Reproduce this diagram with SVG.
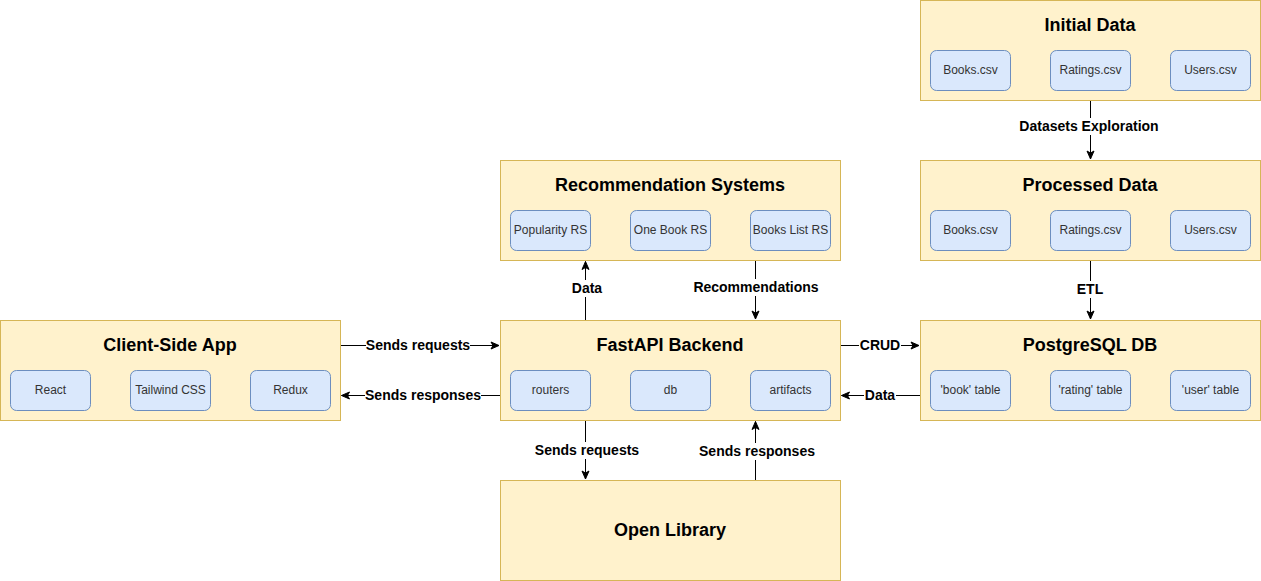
<svg xmlns="http://www.w3.org/2000/svg" width="1261" height="581" viewBox="0 0 1261 581">
<style>
.box{fill:#fff2cc;stroke:#d6b656;stroke-width:1}
.item{fill:#dae8fc;stroke:#6c8ebf;stroke-width:1}
.title{font-family:"Liberation Sans",Arial,sans-serif;font-size:18px;font-weight:bold;fill:#000;text-anchor:middle;dominant-baseline:central}
.itext{font-family:"Liberation Sans",Arial,sans-serif;font-size:12px;fill:#333;text-anchor:middle;dominant-baseline:central}
.edge{stroke:#000;stroke-width:1;fill:none;marker-end:url(#arr)}
.lbl{font-family:"Liberation Sans",Arial,sans-serif;font-size:14px;font-weight:bold;fill:#000;text-anchor:middle;dominant-baseline:central}
.lbg{fill:#fff}
</style>
<defs>
<marker id="arr" markerUnits="userSpaceOnUse" markerWidth="10" markerHeight="10" viewBox="0 0 10 10" refX="9" refY="5" orient="auto">
<path d="M1,1.5 L9,5 L1,8.5 L3,5 Z" fill="#000" stroke="#000" stroke-width="1"/>
</marker>
</defs>
<rect width="1261" height="581" fill="#fff"/>

<g id="connectors">
<path class="edge" d="M340.5,345.5 H499"/>
<path class="edge" d="M500,395.5 H341.5"/>
<path class="edge" d="M585.5,320 V261.5"/>
<path class="edge" d="M755.5,260.5 V319"/>
<path class="edge" d="M1090.5,100.5 V159"/>
<path class="edge" d="M1090.5,260.5 V319"/>
<path class="edge" d="M840.5,345.5 H919"/>
<path class="edge" d="M920,395.5 H841.5"/>
<path class="edge" d="M585.5,420.5 V479"/>
<path class="edge" d="M755.5,480 V421.5"/>
<g>
<rect class="lbg" x="366" y="337" width="104" height="17"/><text class="lbl" x="418" y="345">Sends requests</text>
<rect class="lbg" x="365" y="387" width="116" height="17"/><text class="lbl" x="423" y="395">Sends responses</text>
<rect class="lbg" x="571" y="280" width="32" height="17"/><text class="lbl" x="587" y="288">Data</text>
<rect class="lbg" x="693" y="279" width="126" height="17"/><text class="lbl" x="756" y="287">Recommendations</text>
<rect class="lbg" x="1018" y="118" width="142" height="17"/><text class="lbl" x="1089" y="126">Datasets Exploration</text>
<rect class="lbg" x="1076" y="281" width="29" height="17"/><text class="lbl" x="1090" y="289">ETL</text>
<rect class="lbg" x="859" y="337" width="42" height="17"/><text class="lbl" x="880" y="345">CRUD</text>
<rect class="lbg" x="864" y="387" width="32" height="17"/><text class="lbl" x="880" y="395">Data</text>
<rect class="lbg" x="535" y="442" width="104" height="17"/><text class="lbl" x="587" y="450">Sends requests</text>
<rect class="lbg" x="699" y="443" width="116" height="17"/><text class="lbl" x="757" y="451">Sends responses</text>
</g>
</g>

<g id="client-side-app">
<rect class="box" x="0.5" y="320.5" width="340" height="100"/>
<text class="title" x="170" y="345">Client-Side App</text>
<rect class="item" x="10.5" y="370.5" width="80" height="40" rx="6"/><text class="itext" x="50.5" y="389.5">React</text>
<rect class="item" x="130.5" y="370.5" width="80" height="40" rx="6"/><text class="itext" x="170.5" y="389.5">Tailwind CSS</text>
<rect class="item" x="250.5" y="370.5" width="80" height="40" rx="6"/><text class="itext" x="290.5" y="389.5">Redux</text>
</g>

<g id="fastapi-backend">
<rect class="box" x="500.5" y="320.5" width="340" height="100"/>
<text class="title" x="670" y="345">FastAPI Backend</text>
<rect class="item" x="510.5" y="370.5" width="80" height="40" rx="6"/><text class="itext" x="550.5" y="389.5">routers</text>
<rect class="item" x="630.5" y="370.5" width="80" height="40" rx="6"/><text class="itext" x="670.5" y="389.5">db</text>
<rect class="item" x="750.5" y="370.5" width="80" height="40" rx="6"/><text class="itext" x="790.5" y="389.5">artifacts</text>
</g>

<g id="recommendation-systems">
<rect class="box" x="500.5" y="160.5" width="340" height="100"/>
<text class="title" x="670" y="185">Recommendation Systems</text>
<rect class="item" x="510.5" y="210.5" width="80" height="40" rx="6"/><text class="itext" x="550.5" y="229.5">Popularity RS</text>
<rect class="item" x="630.5" y="210.5" width="80" height="40" rx="6"/><text class="itext" x="670.5" y="229.5">One Book RS</text>
<rect class="item" x="750.5" y="210.5" width="80" height="40" rx="6"/><text class="itext" x="790.5" y="229.5">Books List RS</text>
</g>

<g id="initial-data">
<rect class="box" x="920.5" y="0.5" width="340" height="100"/>
<text class="title" x="1090" y="25">Initial Data</text>
<rect class="item" x="930.5" y="50.5" width="80" height="40" rx="6"/><text class="itext" x="970.5" y="69.5">Books.csv</text>
<rect class="item" x="1050.5" y="50.5" width="80" height="40" rx="6"/><text class="itext" x="1090.5" y="69.5">Ratings.csv</text>
<rect class="item" x="1170.5" y="50.5" width="80" height="40" rx="6"/><text class="itext" x="1210.5" y="69.5">Users.csv</text>
</g>

<g id="processed-data">
<rect class="box" x="920.5" y="160.5" width="340" height="100"/>
<text class="title" x="1090" y="185">Processed Data</text>
<rect class="item" x="930.5" y="210.5" width="80" height="40" rx="6"/><text class="itext" x="970.5" y="229.5">Books.csv</text>
<rect class="item" x="1050.5" y="210.5" width="80" height="40" rx="6"/><text class="itext" x="1090.5" y="229.5">Ratings.csv</text>
<rect class="item" x="1170.5" y="210.5" width="80" height="40" rx="6"/><text class="itext" x="1210.5" y="229.5">Users.csv</text>
</g>

<g id="postgresql-db">
<rect class="box" x="920.5" y="320.5" width="340" height="100"/>
<text class="title" x="1090" y="345">PostgreSQL DB</text>
<rect class="item" x="930.5" y="370.5" width="80" height="40" rx="6"/><text class="itext" x="970.5" y="389.5">'book' table</text>
<rect class="item" x="1050.5" y="370.5" width="80" height="40" rx="6"/><text class="itext" x="1090.5" y="389.5">'rating' table</text>
<rect class="item" x="1170.5" y="370.5" width="80" height="40" rx="6"/><text class="itext" x="1210.5" y="389.5">'user' table</text>
</g>

<g id="open-library">
<rect class="box" x="500.5" y="480.5" width="340" height="100"/>
<text class="title" x="670" y="530">Open Library</text>
</g>
</svg>
